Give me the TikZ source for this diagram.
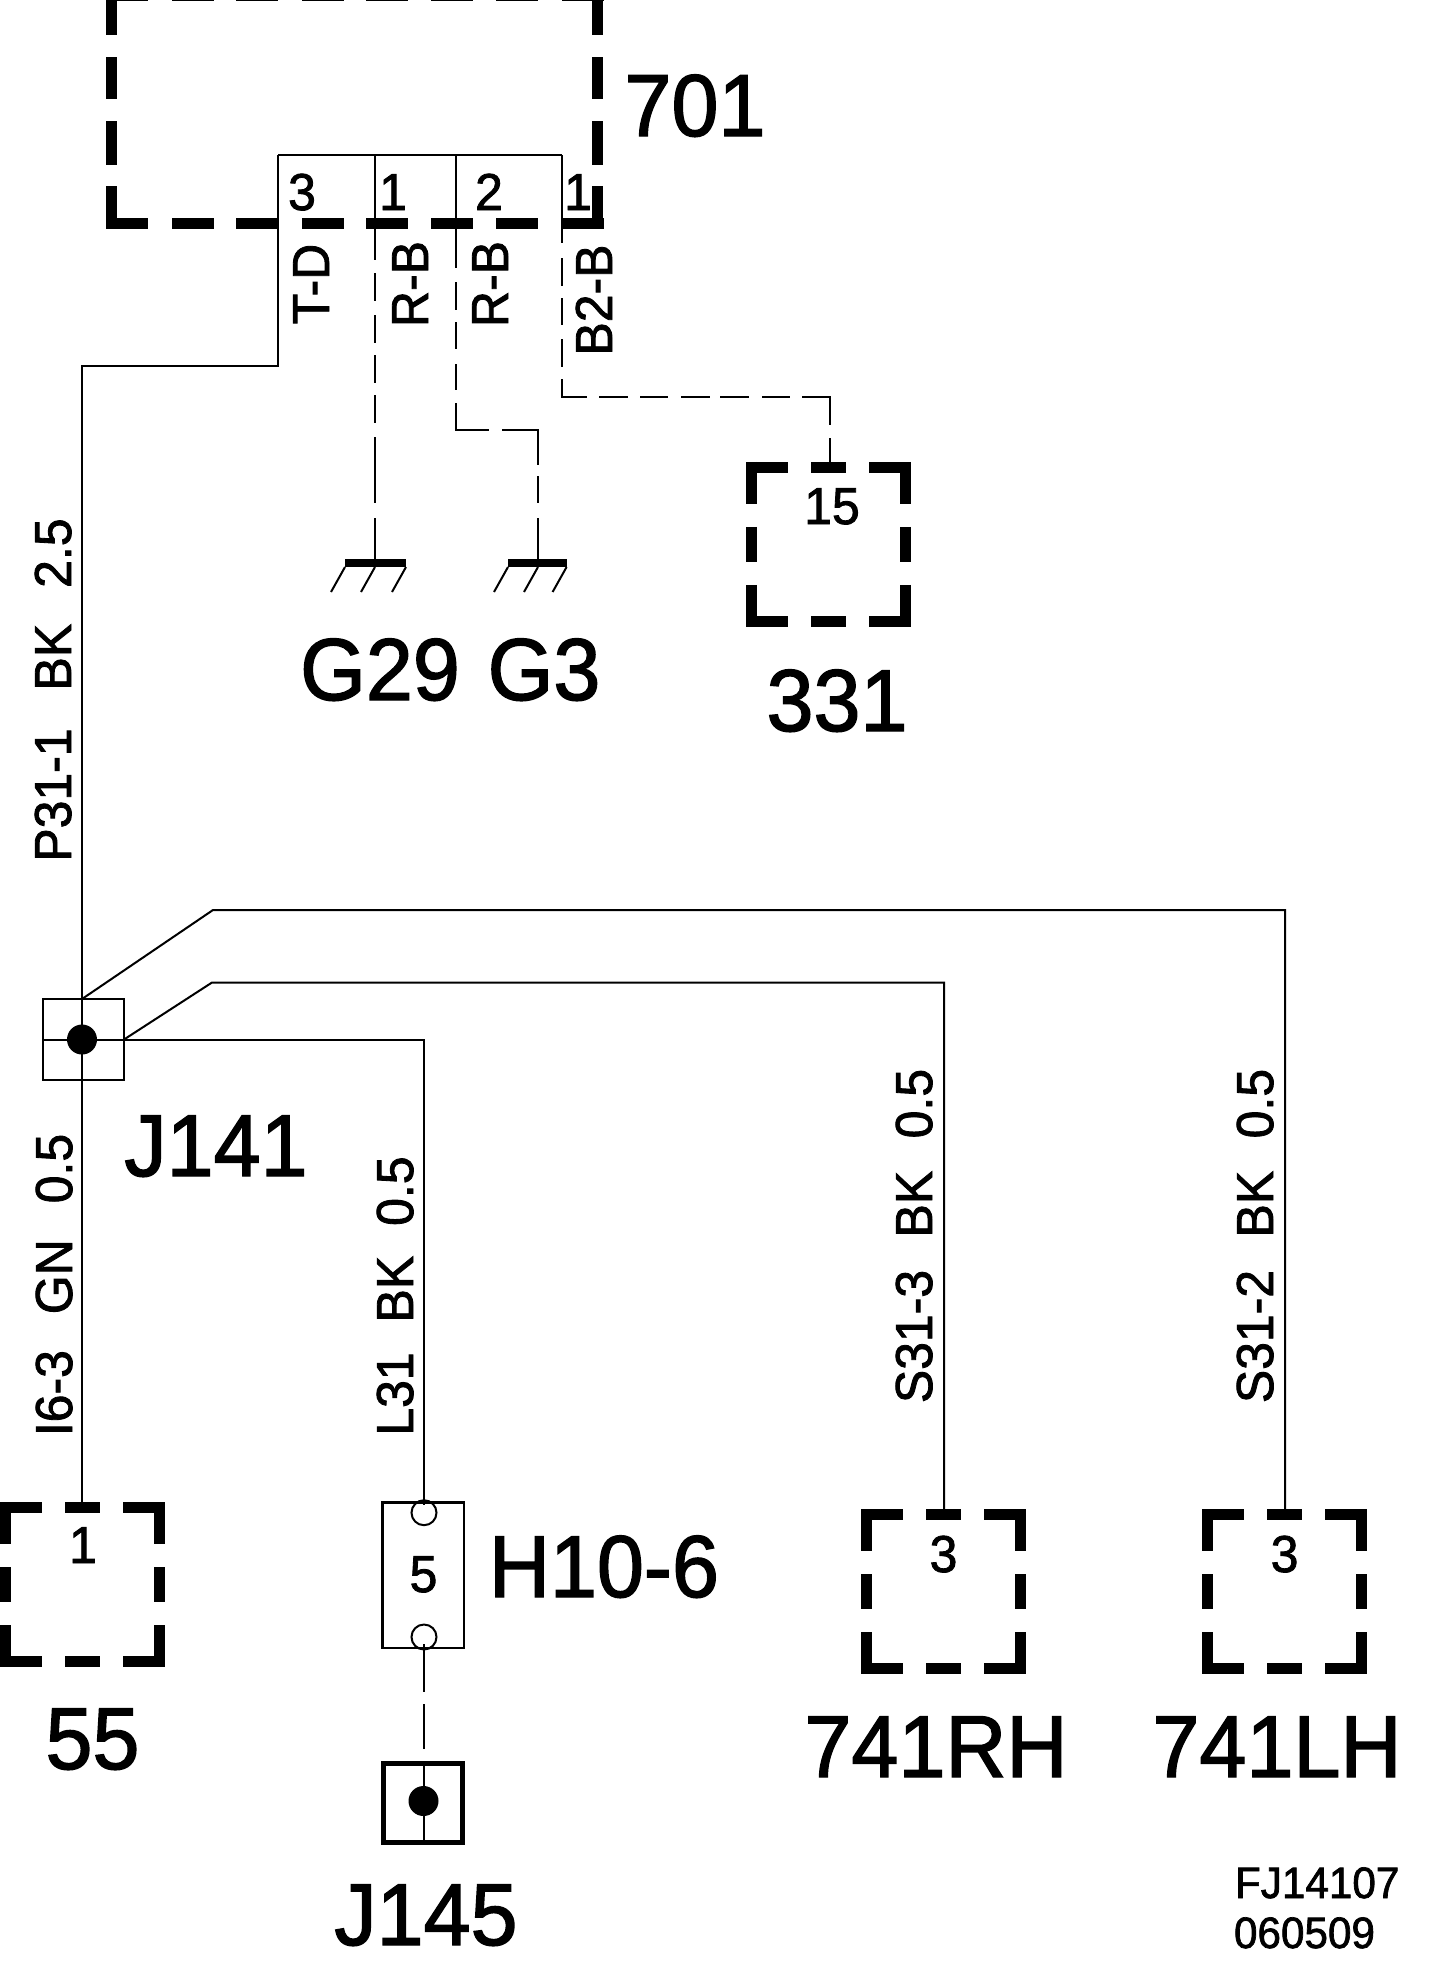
\documentclass[tikz,border=0pt]{standalone}
\usepackage{fontspec}
\newfontfamily\schemfont[FakeStretch=0.96,FakeBold=1.6]{Liberation Sans}
\newfontfamily\schemsmall[FakeStretch=0.96,FakeBold=1.6]{Liberation Sans}
\tikzset{
  big/.style={font=\schemfont\fontsize{88}{88}\selectfont,inner sep=0pt,outer sep=0pt,anchor=base},
  small/.style={font=\schemsmall\fontsize{52}{52}\selectfont,inner sep=0pt,outer sep=0pt,anchor=base},
  vert/.style={small,rotate=90},
  code/.style={font=\schemsmall\fontsize{44}{44}\selectfont,inner sep=0pt,outer sep=0pt,anchor=base west},
  wire/.style={line width=2pt,line cap=butt,line join=miter},
  thick box/.style={line width=11pt,line cap=butt},
  frame/.style={draw,line width=2.5pt,inner sep=0pt,outer sep=0pt},
  dot/.style={circle,fill=black,inner sep=0pt,outer sep=0pt,minimum size=30pt},
  hole/.style={circle,draw,line width=2pt,inner sep=0pt,outer sep=0pt,minimum size=25pt},
  bar/.style={line width=8pt,line cap=butt},
}
\newcommand{\dashsq}[3]{% name, cx, cy
  \coordinate (#1) at (#2,#3);
  \coordinate (#1top) at (#2,#3-82);
  \foreach \a/\b in {-82.5/-40.5,-17.5/17.5,40.5/82.5}{
    \draw[thick box] (#2+\a,#3-77) -- (#2+\b,#3-77);
    \draw[thick box] (#2+\a,#3+77) -- (#2+\b,#3+77);
    \draw[thick box] (#2-77,#3+\a) -- (#2-77,#3+\b);
    \draw[thick box] (#2+77,#3+\a) -- (#2+77,#3+\b);
  }
}
\newcommand{\earth}[6]{% name, wire x, bar left, bar right, hatch starts
  \coordinate (#1) at (#2,563);
  \draw[bar] (#3,563) -- (#4,563);
  \foreach \h in {#5,#6,#4}{\draw[wire] (\h,567) -- (\h-14,592);}
}
\begin{document}
\begin{tikzpicture}[x=1pt,y=-1pt]
\useasboundingbox (0,0) rectangle (1456,1970);

% component 701
\foreach \a in {106,172,236,302,366,431,496,562}{
  \draw[thick box] (\a,223.7) -- (\a+41.5,223.7);
  \draw[thick box] (\a,-4.5) -- (\a+41.5,-4.5);
}
\foreach \a/\b in {-10/35,57/99,121/165,186/229.2}{
  \draw[thick box] (111.6,\a) -- (111.6,\b);
  \draw[thick box] (597.5,\a) -- (597.5,\b);
}
\node[big] (n701) at (695,136) {701};

% terminals of 701
\coordinate (t3) at (278,155);
\coordinate (t1a) at (375,155);
\coordinate (t2) at (456,155);
\coordinate (t1b) at (562,155);
\draw[wire] (t3) -- (t1b);
\node[small] (p3) at (302,210) {3};
\node[small] (p1a) at (393,210) {1};
\node[small] (p2) at (489,210) {2};
\node[small] (p1b) at (578,210) {1};

% connected boxes
\dashsq{b331}{828.7}{544.3}
\node[small] (p15) at (832,524) {15};
\node[big] (n331) at (837,731) {331};

\dashsq{b55}{82.5}{1584.5}
\node[small] (p55) at (83,1563) {1};
\node[big] (n55) at (92.5,1769) {55};

\dashsq{brh}{943.5}{1591.5}
\node[small] (prh) at (943.5,1572) {3};
\node[big] (nrh) at (936,1777) {741RH};

\dashsq{blh}{1284.6}{1591.5}
\node[small] (plh) at (1284.6,1572) {3};
\node[big] (nlh) at (1277,1777) {741LH};

% earths
\earth{g29}{375}{345}{406}{345}{375}
\earth{g3}{538}{508}{566.6}{508}{538}
\node[big] (ng29) at (380,700) {G29};
\node[big] (ng3) at (544,700) {G3};

% splice J141
\node[frame,minimum size=81pt] (j141) at (83.5,1039.5) {};
\coordinate (jc) at (82,1039.5);
\draw[wire] (j141.west) -- (j141.east);
\node[dot] (j141dot) at (jc) {};
\node[big] (nj141) at (216,1176) {J141};

% connector H10-6
\node[frame,minimum width=81.3pt,minimum height=145.3pt] (h10) at (423.3,1575.3) {};
\node[hole] (h10a) at (424,1512.7) {};
\node[hole] (h10b) at (424,1637) {};
\node[small] (p5) at (423.5,1592) {5};
\node[big] (nh10) at (604,1597) {H10-6};

% splice J145
\node[draw,line width=5pt,inner sep=0pt,outer sep=0pt,minimum size=79pt] (j145) at (423,1803) {};
\draw[wire] (424,1763.5) -- (424,1842.5);
\node[dot] (j145dot) at (423.5,1801) {};
\node[big] (nj145) at (426,1945) {J145};

% wires
\coordinate (ct) at (278,366);
\coordinate (cl) at (82,366);
\draw[wire] (t3) -- (ct) -- (cl) -- (jc |- j141.north) -- (jc |- b55top);
\draw[wire,dash pattern=on 105pt off 13pt on 28pt off 14pt on 28pt off 12pt on 28pt off 12pt on 28pt off 14pt on 66pt off 15pt on 45pt]
  (t1a) -- (g29);
\coordinate (c2a) at (456,430);
\coordinate (c2b) at (538,430);
\draw[wire,dash pattern=on 113pt off 14pt on 28pt off 12pt on 27pt off 15pt on 26pt off 13pt on 60pt off 13pt on 71pt off 11pt on 27pt off 15pt on 45pt]
  (t2) -- (c2a) -- (c2b) -- (g3);
\coordinate (c3a) at (562,397);
\coordinate (c3b) at (830,397);
\draw[wire,dash pattern=on 88pt off 15pt on 28pt off 12pt on 27pt off 14pt on 28pt off 12pt on 43pt off 12pt on 28.5pt off 12.5pt on 28pt off 13pt on 29pt off 10pt on 29pt off 13pt on 28pt off 12pt on 56pt off 13pt on 24pt]
  (t1b) -- (c3a) -- (c3b) -- (830,462);

\coordinate (d1) at (213,910);
\coordinate (d1e) at (1285,910);
\draw[wire] (jc |- j141.north) -- (d1) -- (d1e) -- (d1e |- blhtop);
\coordinate (d2) at (212,982.5);
\coordinate (d2e) at (944,982.5);
\draw[wire] (j141.east) -- (d2) -- (d2e) -- (d2e |- brhtop);
\coordinate (d3) at (424,1040);
\draw[wire] (j141.east |- d3) -- (d3) -- (424,1505);
\draw[wire,dash pattern=on 48pt off 12pt on 45pt] (424,1644) -- (424,1749);

% wire labels
\node[vert] (lt) at (329,284) {T-D};
\node[vert] (lra) at (428,284) {R-B};
\node[vert] (lrb) at (508,284) {R-B};
\node[vert] (lb2) at (612,300) {B2-B};
\node[vert] (lp) at (71,690) {P31-1\hspace{38pt}BK\hspace{36pt}2.5};
\node[vert] (li) at (72,1285) {I6-3\hspace{36pt}GN\hspace{36pt}0.5};
\node[vert] (ll) at (413,1296) {L31\hspace{30pt}BK\hspace{30pt}0.5};
\node[vert] (ls3) at (932,1236) {S31-3\hspace{32.5pt}BK\hspace{32.5pt}0.5};
\node[vert] (ls2) at (1273,1236) {S31-2\hspace{32.5pt}BK\hspace{32.5pt}0.5};

% drawing code
\node[code] (c1) at (1235,1898) {FJ14107};
\node[code] (c2) at (1234,1948) {060509};
\end{tikzpicture}
\end{document}
